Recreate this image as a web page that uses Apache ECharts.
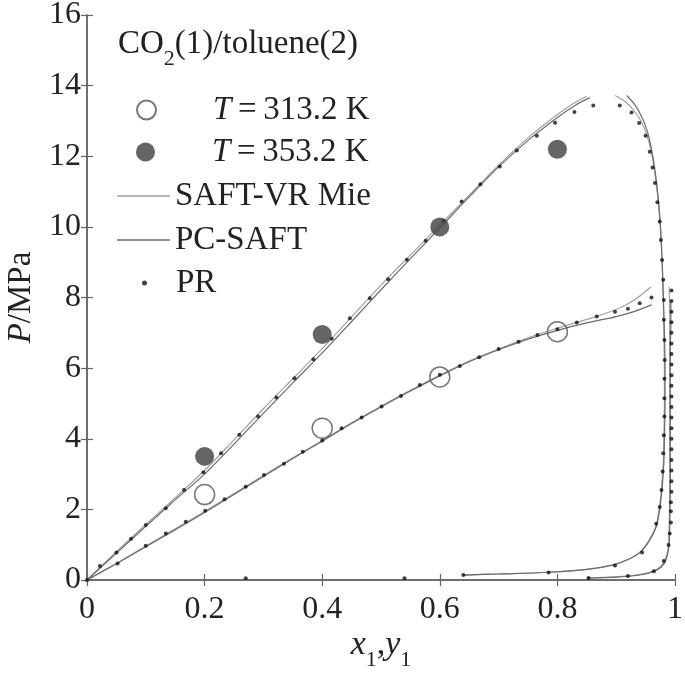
<!DOCTYPE html>
<html>
<head>
<meta charset="utf-8">
<script src="https://cdn.jsdelivr.net/npm/echarts@6/dist/echarts.min.js"></script>
<style>
  html, body { margin: 0; padding: 0; background: #fff; }
  #chart { width: 685px; height: 674px; }
</style>
</head>
<body>
<div id="chart"></div>
<script>
// experimental points
const exp313 = [[0.2, 2.42], [0.4, 4.3], [0.6, 5.75], [0.8, 7.03]]
const exp353 = [[0.2, 3.5], [0.4, 6.95], [0.6, 10.0], [0.8, 12.2]]

// SAFT-VR Mie
const saft353Bubble = [[0, 0], [0.05, 0.8], [0.1, 1.57], [0.15, 2.33], [0.2, 3.1], [0.25, 3.97], [0.3, 4.85], [0.35, 5.7], [0.4, 6.55], [0.45, 7.45], [0.5, 8.35], [0.55, 9.2], [0.6, 10.05], [0.65, 10.9], [0.7, 11.75], [0.75, 12.52], [0.8, 13.18], [0.83, 13.52], [0.85, 13.7]]
const saft353Dew = [[0.898, 13.72], [0.915, 13.55], [0.93, 13.3], [0.942, 13.0], [0.952, 12.6], [0.96, 12.1], [0.966, 11.5], [0.971, 10.8], [0.975, 10.0], [0.978, 9.0], [0.98, 8.0], [0.981, 7.0], [0.982, 6.0], [0.982, 5.0], [0.981, 4.0], [0.98, 3.3], [0.977, 2.6], [0.973, 2.0], [0.967, 1.5], [0.955, 1.1], [0.94, 0.78], [0.92, 0.58], [0.895, 0.43], [0.85, 0.3], [0.785, 0.22], [0.7, 0.17], [0.64, 0.14]]
const saft313Bubble = [[0, 0], [0.05, 0.47], [0.1, 0.96], [0.15, 1.45], [0.2, 1.94], [0.25, 2.45], [0.3, 2.96], [0.35, 3.46], [0.4, 3.95], [0.45, 4.45], [0.5, 4.92], [0.55, 5.37], [0.6, 5.8], [0.65, 6.2], [0.7, 6.54], [0.75, 6.86], [0.8, 7.13], [0.85, 7.38], [0.9, 7.66], [0.93, 7.92], [0.96, 8.31]]
const saft313Dew = [[0.85, 0.06], [0.9, 0.09], [0.93, 0.13], [0.955, 0.21], [0.97, 0.31], [0.98, 0.47], [0.986, 0.72], [0.989, 1.0], [0.99, 1.5], [0.991, 2.5], [0.991, 3.5], [0.991, 4.5], [0.991, 5.5], [0.991, 6.5], [0.991, 7.5], [0.99, 8.3]]

// PC-SAFT
const pc353Bubble = [[0, 0], [0.05, 0.76], [0.1, 1.52], [0.15, 2.27], [0.2, 3.0], [0.25, 3.85], [0.3, 4.72], [0.35, 5.58], [0.4, 6.43], [0.45, 7.32], [0.5, 8.22], [0.55, 9.1], [0.6, 9.97], [0.65, 10.85], [0.7, 11.7], [0.75, 12.45], [0.8, 13.1], [0.83, 13.44], [0.855, 13.66]]
const pc353Dew = [[0.918, 13.72], [0.932, 13.45], [0.944, 13.1], [0.953, 12.7], [0.96, 12.2], [0.966, 11.6], [0.971, 10.9], [0.975, 10.1], [0.978, 9.1], [0.98, 8.1], [0.982, 7.0], [0.983, 6.0], [0.983, 5.0], [0.982, 4.0], [0.981, 3.3], [0.978, 2.6], [0.974, 2.0], [0.968, 1.5], [0.956, 1.1], [0.941, 0.79], [0.92, 0.58], [0.895, 0.43], [0.85, 0.3], [0.785, 0.22], [0.7, 0.17], [0.64, 0.14]]
const pc313Bubble = [[0, 0], [0.05, 0.46], [0.1, 0.94], [0.15, 1.42], [0.2, 1.91], [0.25, 2.42], [0.3, 2.93], [0.35, 3.44], [0.4, 3.93], [0.45, 4.43], [0.5, 4.9], [0.55, 5.35], [0.6, 5.78], [0.65, 6.18], [0.7, 6.52], [0.75, 6.82], [0.8, 7.07], [0.85, 7.28], [0.9, 7.46], [0.93, 7.6], [0.96, 7.79]]
const pc313Dew = [[0.85, 0.05], [0.9, 0.08], [0.93, 0.12], [0.955, 0.19], [0.97, 0.29], [0.981, 0.45], [0.987, 0.7], [0.99, 1.0], [0.991, 1.5], [0.992, 2.5], [0.992, 3.5], [0.992, 4.5], [0.992, 5.5], [0.992, 6.5], [0.993, 7.3], [0.993, 7.9]]

// PR
const pr353Bubble = [[0, 0], [0.022, 0.4], [0.05, 0.78], [0.075, 1.17], [0.1, 1.56], [0.134, 2.03], [0.165, 2.55], [0.198, 3.05], [0.228, 3.59], [0.259, 4.11], [0.291, 4.63], [0.322, 5.17], [0.353, 5.71], [0.385, 6.25], [0.416, 6.83], [0.447, 7.41], [0.481, 7.98], [0.512, 8.52], [0.544, 9.07], [0.576, 9.61], [0.606, 10.17], [0.637, 10.72], [0.669, 11.21], [0.702, 11.71], [0.731, 12.16], [0.765, 12.58], [0.796, 12.95], [0.829, 13.25], [0.861, 13.44]]
const pr353Dew = [[0.906, 13.44], [0.926, 13.24], [0.939, 12.94], [0.95, 12.58], [0.957, 12.13], [0.962, 11.68], [0.966, 11.24], [0.97, 10.7], [0.974, 10.15], [0.976, 9.63], [0.978, 9.06], [0.98, 8.5], [0.981, 7.93], [0.981, 7.37], [0.982, 6.8], [0.9825, 6.23], [0.982, 5.7], [0.982, 5.15], [0.982, 4.63], [0.981, 4.1], [0.98, 3.59], [0.979, 3.07], [0.977, 2.55], [0.974, 2.07], [0.968, 1.59], [0.944, 0.78], [0.898, 0.41], [0.785, 0.21], [0.64, 0.14]]
const pr313Bubble = [[0.052, 0.47], [0.1, 0.97], [0.134, 1.32], [0.168, 1.65], [0.201, 1.96], [0.234, 2.29], [0.27, 2.64], [0.301, 2.97], [0.335, 3.29], [0.367, 3.63], [0.4, 3.95], [0.433, 4.3], [0.467, 4.6], [0.501, 4.91], [0.534, 5.21], [0.566, 5.52], [0.6, 5.81], [0.634, 6.06], [0.667, 6.31], [0.7, 6.54], [0.734, 6.75], [0.766, 6.94], [0.8, 7.1], [0.833, 7.29], [0.867, 7.46], [0.898, 7.6], [0.92, 7.68], [0.94, 7.84], [0.96, 8.0]]
const pr313Dew = [[0.994, 8.2], [0.994, 7.9], [0.994, 7.6], [0.994, 7.3], [0.994, 7.0], [0.994, 6.7], [0.994, 6.4], [0.994, 6.1], [0.994, 5.8], [0.994, 5.5], [0.994, 5.2], [0.994, 4.9], [0.994, 4.6], [0.994, 4.3], [0.994, 4.0], [0.994, 3.7], [0.994, 3.4], [0.994, 3.1], [0.994, 2.8], [0.994, 2.5], [0.993, 2.2], [0.993, 1.95], [0.993, 1.63], [0.991, 1.32], [0.989, 0.99], [0.981, 0.54], [0.964, 0.25], [0.92, 0.11], [0.853, 0.06], [0.54, 0.05], [0.27, 0.05]]

const FONT = 'Liberation Serif'
const AXIS_COLOR = '#666'
const SAFT_COLOR = '#a0a0a0'
const PC_COLOR = '#6a6a6a'

const chart = echarts.init(document.getElementById('chart'))

function lineSeries(name, data, color) {
  return {
    name,
    type: 'line',
    data,
    color,
    symbol: 'none',
    smooth: 0.3,
    lineStyle: { color, width: 1.2 },
    itemStyle: { color },
    silent: true,
    z: 2,
  }
}

const axisCommon = {
  type: 'value',
  axisLine: { show: true, lineStyle: { color: AXIS_COLOR, width: 1.5 } },
  axisTick: { show: true, inside: true, length: 6, lineStyle: { color: AXIS_COLOR, width: 1.2 } },
  splitLine: { show: false },
}

const subRich = { fontFamily: FONT, fontSize: 22, lineHeight: 22, padding: [30, 0, 0, 0], color: '#222' }

const legendBase = {
  orient: 'vertical',
  padding: 0,
  selectedMode: false,
  textStyle: {
    fontFamily: FONT,
    fontSize: 33,
    lineHeight: 36,
    color: '#222',
    rich: {
      i: { fontFamily: FONT, fontStyle: 'italic', fontSize: 33, lineHeight: 36, color: '#222' },
      g: { width: 52, lineHeight: 36 },
      h: { width: 24, lineHeight: 36 },
    },
  },
}

const option = {
  backgroundColor: '#fff',
  animation: false,
  title: {
    text: 'CO{s|2}(1)/toluene(2)',
    left: 118,
    top: 26,
    padding: 0,
    textStyle: {
      fontFamily: FONT,
      fontSize: 33,
      lineHeight: 36,
      fontWeight: 'normal',
      color: '#222',
      rich: { s: subRich },
    },
  },
  legend: [
    Object.assign({}, legendBase, {
      left: 136, top: 92, itemWidth: 19, itemHeight: 19,
      data: ['T = 313.2 K'],
      formatter: () => '{g|}{i|T}\u2009=\u2009313.2 K',
    }),
    Object.assign({}, legendBase, {
      left: 136, top: 134, itemWidth: 19, itemHeight: 19,
      data: ['T = 353.2 K'],
      formatter: () => '{g|}{i|T}\u2009=\u2009353.2 K',
    }),
    Object.assign({}, legendBase, {
      left: 117, top: 178, itemWidth: 53, itemHeight: 1.5, symbolKeepAspect: false,
      data: [{ name: 'SAFT-VR Mie', icon: 'rect' }],
    }),
    Object.assign({}, legendBase, {
      left: 117, top: 222, itemWidth: 53, itemHeight: 1.5, symbolKeepAspect: false,
      data: [{ name: 'PC-SAFT', icon: 'rect' }],
    }),
    Object.assign({}, legendBase, {
      left: 142, top: 265, itemWidth: 5, itemHeight: 5,
      data: ['PR'],
      formatter: () => '{h|}PR',
    }),
  ],
  grid: { left: 87, right: 10, top: 15, bottom: 94, containLabel: false, outerBoundsMode: 'none' },
  xAxis: [
    Object.assign({}, axisCommon, {
      min: 0, max: 1, interval: 0.2,
      position: 'bottom',
      name: '{i|x}{s|1},{i|y}{s|1}',
      nameLocation: 'middle',
      nameGap: 47,
      nameMoveOverlap: false,
      nameTextStyle: {
        fontFamily: FONT, fontSize: 34, lineHeight: 36, color: '#222',
        rich: {
          i: { fontFamily: FONT, fontStyle: 'italic', fontSize: 34, lineHeight: 36, color: '#222' },
          s: subRich,
        },
      },
      axisLabel: {
        show: true, margin: 14, fontFamily: FONT, fontSize: 32, color: '#222',
        showMinLabel: true, showMaxLabel: true,
      },
    }),
    Object.assign({}, axisCommon, {
      min: 0, max: 1, interval: 0.2,
      position: 'top',
      axisLabel: { show: false },
    }),
  ],
  yAxis: [
    Object.assign({}, axisCommon, {
      min: 0, max: 16, interval: 2,
      position: 'left',
      name: '{i|P}/MPa',
      nameLocation: 'middle',
      nameGap: 48,
      nameMoveOverlap: false,
      nameTextStyle: {
        fontFamily: FONT, fontSize: 33, lineHeight: 36, color: '#222',
        rich: {
          i: { fontFamily: FONT, fontStyle: 'italic', fontSize: 33, lineHeight: 36, color: '#222' },
        },
      },
      axisLabel: {
        show: true, margin: 6, fontFamily: FONT, fontSize: 32, color: '#222',
        padding: [7, 0, 0, 0],
        showMinLabel: true, showMaxLabel: true,
      },
    }),
    Object.assign({}, axisCommon, {
      min: 0, max: 16, interval: 2,
      position: 'right',
      axisLabel: { show: false },
    }),
  ],
  series: [
    lineSeries('SAFT-VR Mie', saft353Bubble, SAFT_COLOR),
    lineSeries('SAFT-VR Mie', saft353Dew, SAFT_COLOR),
    lineSeries('SAFT-VR Mie', saft313Bubble, SAFT_COLOR),
    lineSeries('SAFT-VR Mie', saft313Dew, SAFT_COLOR),
    lineSeries('PC-SAFT', pc353Bubble, PC_COLOR),
    lineSeries('PC-SAFT', pc353Dew, PC_COLOR),
    lineSeries('PC-SAFT', pc313Bubble, PC_COLOR),
    lineSeries('PC-SAFT', pc313Dew, PC_COLOR),
    {
      name: 'PR',
      type: 'scatter',
      data: pr353Bubble.concat(pr353Dew, pr313Bubble, pr313Dew),
      symbol: 'circle',
      symbolSize: 4,
      itemStyle: { color: '#111' },
      z: 3,
    },
    {
      name: 'T = 313.2 K',
      type: 'scatter',
      data: exp313,
      symbol: 'circle',
      symbolSize: 20,
      itemStyle: { color: 'rgba(255,255,255,0)', borderColor: '#555', borderWidth: 1.5 },
      z: 4,
    },
    {
      name: 'T = 353.2 K',
      type: 'scatter',
      data: exp353,
      symbol: 'circle',
      symbolSize: 19,
      itemStyle: { color: '#3f3f3f' },
      z: 4,
    },
  ],
}

chart.setOption(option)
</script>
</body>
</html>
